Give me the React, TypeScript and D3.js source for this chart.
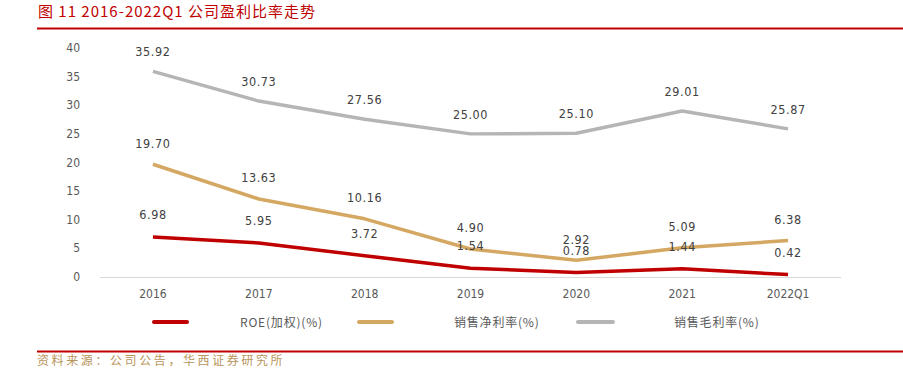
import React from "react";
import * as d3 from "d3";

const categories = ["2016", "2017", "2018", "2019", "2020", "2021", "2022Q1"];
const roe = [6.98, 5.95, 3.72, 1.54, 0.78, 1.44, 0.42];
const netMargin = [19.7, 13.63, 10.16, 4.9, 2.92, 5.09, 6.38];
const grossMargin = [35.92, 30.73, 27.56, 25.0, 25.1, 29.01, 25.87];
const yTicks = [0, 5, 10, 15, 20, 25, 30, 35, 40];
const seriesNames = ["ROE(加权)(%)", "销售净利率(%)", "销售毛利率(%)"];

const W = 903;
const H = 378;

export default function App() {
  const x = d3.scaleBand<string>().domain(categories).range([100, 841]);
  const y = d3.scaleLinear().domain([0, 40]).range([277, 48]);
  const cx = (c: string) => (x(c) as number) + x.bandwidth() / 2;
  const line = d3
    .line<number>()
    .x((_, i) => cx(categories[i]))
    .y((d) => y(d));

  const series = [
    { name: seriesNames[0], data: roe, color: "#c00000", off: 22 },
    { name: seriesNames[1], data: netMargin, color: "#d4a862", off: 20.5 },
    { name: seriesNames[2], data: grossMargin, color: "#b5b5b5", off: 19 },
  ];
  const legendX = [
    { lx1: 154, lx2: 187, tx: 240 },
    { lx1: 359, lx2: 392, tx: 454 },
    { lx1: 578, lx2: 613, tx: 674 },
  ];
  const numFont = "'DejaVu Sans Condensed', 'Liberation Sans Narrow', sans-serif";
  const cjk = "'Noto Sans CJK SC', sans-serif";

  return (
    <svg
      width={W}
      height={H}
      style={{ position: "absolute", left: 0, top: 0, background: "#fff" }}
    >
      <text x={38} y={17} fill="#c00000" fontSize={15} fontFamily={cjk} letterSpacing={1}>
        图 11 2016-2022Q1 公司盈利比率走势
      </text>
      <line x1={37} x2={903} y1={28.5} y2={28.5} stroke="#c00000" strokeWidth={2} />

      {yTicks.map((t) => (
        <text key={t} x={80} y={y(t) + 4} textAnchor="end" fontSize={12} fill="#595959" fontFamily={numFont}>
          {t}
        </text>
      ))}
      <line x1={100} x2={841} y1={y(0) + 0.5} y2={y(0) + 0.5} stroke="#d9d9d9" strokeWidth={1} />
      {categories.map((c) => (
        <text key={c} x={cx(c)} y={298} textAnchor="middle" fontSize={12} fill="#595959" fontFamily={numFont}>
          {c}
        </text>
      ))}

      {[...series].reverse().map((s) => (
        <path key={s.name} d={line(s.data) || ""} fill="none" stroke={s.color} strokeWidth={3.5} strokeLinejoin="round" />
      ))}
      {series.map((s) =>
        s.data.map((v, i) => (
          <text
            key={s.name + i}
            x={cx(categories[i])}
            y={y(v) - s.off + 4}
            textAnchor="middle"
            fontSize={12.5}
            fill="#404040"
            fontFamily={numFont}
            letterSpacing={0.6}
          >
            {v.toFixed(2)}
          </text>
        ))
      )}

      {series.map((s, i) => (
        <g key={"lg" + i}>
          <line x1={legendX[i].lx1} x2={legendX[i].lx2} y1={322} y2={322} stroke={s.color} strokeWidth={4} strokeLinecap="round" />
          <text x={legendX[i].tx} y={326.5} fontSize={12} fill="#595959" fontFamily={cjk} letterSpacing={0.8}>
            {s.name}
          </text>
        </g>
      ))}

      <line x1={37} x2={903} y1={351.5} y2={351.5} stroke="#c00000" strokeWidth={2} />
      <text x={37} y={365} fontSize={12} fill="#b8955a" fontFamily={cjk} letterSpacing={2.6}>
        资料来源：公司公告，华西证券研究所
      </text>
    </svg>
  );
}
